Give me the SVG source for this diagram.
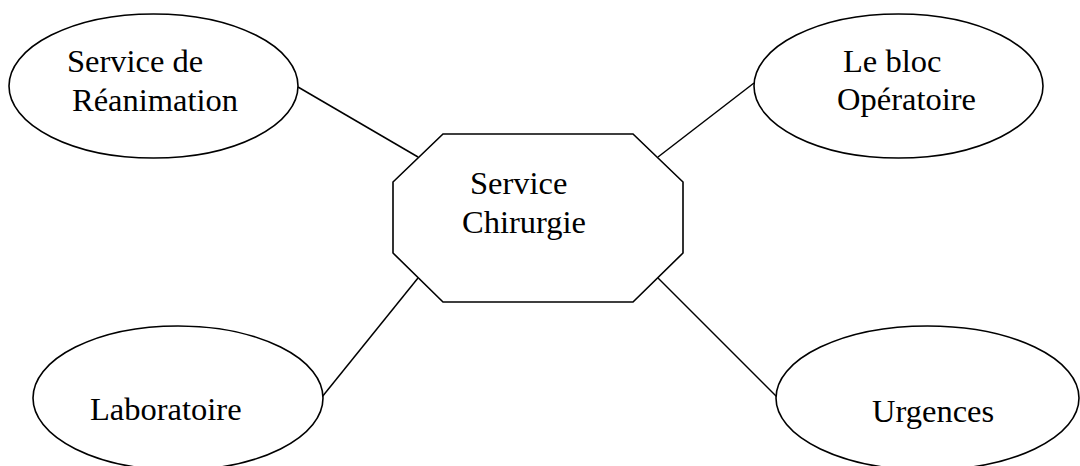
<svg xmlns="http://www.w3.org/2000/svg" width="1080" height="466" viewBox="0 0 1080 466">
<style>
.shape{fill:#ffffff;stroke:#000000;stroke-width:1.6}
.conn line{stroke:#000000;stroke-width:1.5}
text{font-family:"Liberation Serif","Times New Roman",serif;font-size:32.5px;fill:#000000}
</style>
<rect width="1080" height="466" fill="#ffffff"/>
<g id="connectors" class="conn">
<line x1="298" y1="87" x2="418" y2="157"/>
<line x1="754" y1="83" x2="658" y2="157"/>
<line x1="418" y1="278" x2="322" y2="397"/>
<line x1="658" y1="278" x2="777" y2="397"/>
</g>
<g id="chirurgie">
<polygon class="shape" points="443,134 633,134 683,182 683,253 633,302 443,302 393,253 393,182"/>
<text x="470" y="194">Service</text>
<text x="462" y="233">Chirurgie</text>
</g>
<g id="reanimation">
<ellipse class="shape" cx="153.5" cy="86" rx="144.5" ry="72"/>
<text x="67" y="72">Service de</text>
<text x="72" y="111">Réanimation</text>
</g>
<g id="bloc">
<ellipse class="shape" cx="898.5" cy="86" rx="144.5" ry="72"/>
<text x="843" y="72">Le bloc</text>
<text x="837" y="110">Opératoire</text>
</g>
<g id="laboratoire">
<ellipse class="shape" cx="178" cy="398" rx="145" ry="72"/>
<text x="90" y="420">Laboratoire</text>
</g>
<g id="urgences">
<ellipse class="shape" cx="927.5" cy="398" rx="151.5" ry="72"/>
<text x="872" y="422">Urgences</text>
</g>
</svg>
